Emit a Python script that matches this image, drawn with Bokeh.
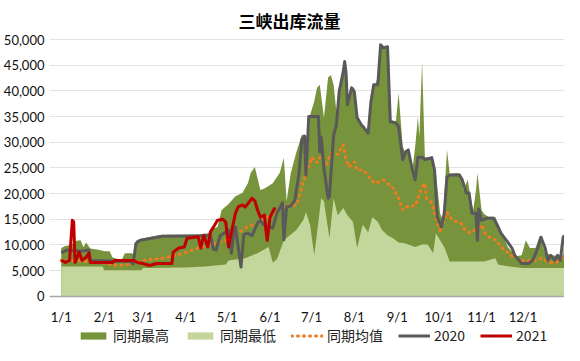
import pandas as pd
from bokeh.plotting import figure
from bokeh.models import (ColumnDataSource, Range1d, FixedTicker, NumeralTickFormatter,
                          Legend, LegendItem)
from bokeh.embed import file_html
from bokeh.resources import INLINE

# ---------------- data ----------------
month_tick_dates = ["01-01", "02-01", "03-01", "04-01", "05-01", "06-01",
                    "07-01", "08-01", "09-01", "10-01", "11-01", "12-01"]
month_tick_labels = ["1/1", "2/1", "3/1", "4/1", "5/1", "6/1",
                     "7/1", "8/1", "9/1", "10/1", "11/1", "12/1"]

max_dates = ["01-01", "01-04", "01-08", "01-12", "01-15", "01-17", "01-19", "01-22", "01-29",
             "02-01", "02-05", "02-07", "02-10", "02-14", "02-16", "02-21", "02-23", "02-24",
             "02-27", "03-11", "03-15", "04-10", "04-17", "04-21", "04-24", "04-27", "05-02",
             "05-07", "05-12", "05-16", "05-18", "05-21", "05-25", "05-28", "06-03", "06-08",
             "06-11", "06-13", "06-16", "06-20", "06-24", "06-26", "06-28", "06-30", "07-03",
             "07-05", "07-07", "07-10", "07-13", "07-15", "07-17", "07-19", "07-21", "07-25",
             "07-27", "07-30", "08-01", "08-03", "08-08", "08-11", "08-14", "08-18", "08-20",
             "08-22", "08-26", "08-27", "08-31", "09-02", "09-05", "09-07", "09-09", "09-12",
             "09-14", "09-16", "09-17", "09-19", "09-21", "09-26", "09-29", "10-02", "10-04",
             "10-07", "10-09", "10-14", "10-17", "10-19", "10-22", "10-24", "10-26", "10-28",
             "10-29", "11-01", "11-03", "11-06", "11-10", "11-13", "11-17", "11-20", "11-24",
             "11-26", "11-30", "12-03", "12-06", "12-10", "12-13", "12-17", "12-22", "12-27",
             "12-30", "12-31"]
max_vals = [9400, 9800, 10000, 10800, 10900, 9600, 10500, 9300, 9000,
            8800, 8800, 7600, 7300, 7200, 8400, 8400, 8000, 10800,
            11200, 11800, 12000, 12000, 12300, 13200, 13500, 16800, 18000,
            19500, 20100, 22000, 24000, 25200, 20700, 21000, 22000, 24000,
            27000, 18500, 24000, 28000, 31400, 31500, 27000, 35300, 38000,
            40600, 41200, 34800, 42600, 43100, 41200, 36000, 39800, 45700,
            37900, 40600, 40600, 34800, 32800, 32000, 39800, 42600, 49000,
            48400, 48600, 34400, 34000, 39600, 29100, 27900, 28500, 24600,
            29100, 35000, 31000, 45700, 27100, 27000, 24000, 16200, 14800,
            28500, 23800, 24000, 23800, 20700, 22700, 19300, 16800, 20700,
            24000, 16800, 16000, 15500, 15500, 12900, 11500, 9600, 8400,
            7800, 8000, 10900, 9400, 9400, 11700, 8400, 8000, 7800,
            8000, 11900]

min_dates = ["01-01", "01-31", "02-01", "02-28", "03-01", "03-31", "04-15", "04-30", "05-02",
             "05-14", "05-23", "05-31", "06-03", "06-06", "06-11", "06-20", "06-25", "06-27",
             "06-30", "07-03", "07-06", "07-08", "07-10", "07-14", "07-17", "07-20", "07-24",
             "07-27", "07-31", "08-03", "08-07", "08-11", "08-14", "08-18", "08-21", "08-25",
             "08-29", "09-02", "09-07", "09-14", "09-19", "09-23", "09-27", "09-29", "10-02",
             "10-05", "10-09", "10-19", "11-03", "11-11", "11-13", "11-19", "11-30", "12-31"]
min_vals = [5800, 5800, 5100, 5100, 5500, 5600, 5800, 6200, 7000,
            7400, 8400, 9600, 6600, 7200, 10900, 12900, 14800, 16400,
            13900, 8000, 14500, 19100, 18500, 11300, 19100, 15800, 17200,
            15800, 14500, 9400, 14000, 12500, 15400, 14500, 12900, 11900,
            11300, 10500, 10300, 9600, 10100, 10100, 8400, 12300, 10900,
            9600, 6800, 6800, 6800, 7400, 6200, 5900, 5500, 5500]

avg_dates = ["01-01", "01-15", "02-01", "02-10", "02-20", "03-01", "03-15", "03-31", "04-10",
             "04-22", "05-04", "05-14", "05-25", "06-04", "06-12", "06-20", "06-23", "06-25",
             "06-30", "07-01", "07-05", "07-07", "07-12", "07-15", "07-20", "07-24", "07-26",
             "07-28", "08-01", "08-03", "08-07", "08-11", "08-13", "08-16", "08-22", "08-25",
             "08-29", "08-31", "09-02", "09-05", "09-09", "09-14", "09-16", "09-19", "09-21",
             "09-22", "09-26", "09-29", "10-02", "10-07", "10-10", "10-14", "10-17", "10-19",
             "10-22", "10-25", "11-01", "11-04", "11-08", "11-12", "11-15", "11-18", "11-22",
             "11-25", "11-30", "12-10", "12-14", "12-20", "12-25", "12-30", "12-31"]
avg_vals = [7000, 6900, 6500, 6000, 6200, 7000, 7400, 8400, 9400,
            10300, 11300, 13300, 14500, 16200, 17600, 17800, 20100, 22300,
            26000, 27100, 26000, 27100, 25600, 27900, 27600, 29500, 26600,
            25200, 26200, 24600, 24600, 23600, 22700, 22000, 22700, 22000,
            21100, 20100, 19100, 16800, 17600, 17600, 19100, 21300, 22000,
            19100, 18200, 15400, 12500, 16400, 15200, 14500, 14300, 13300,
            12500, 12500, 13900, 12000, 11300, 10900, 9600, 9000, 8000,
            7600, 7000, 7000, 7400, 6600, 6600, 7600, 7600]

y2020_dates = ["01-01", "01-05", "01-15", "01-21", "01-22", "02-20", "02-22", "02-24", "02-27",
               "03-11", "03-15", "04-17", "04-19", "04-21", "04-23", "04-26", "05-02", "05-04",
               "05-06", "05-07", "05-11", "05-13", "05-16", "05-19", "05-23", "05-25", "05-27",
               "05-31", "06-03", "06-06", "06-10", "06-11", "06-13", "06-16", "06-19", "06-22",
               "06-24", "06-26", "06-27", "06-29", "07-06", "07-07", "07-08", "07-10", "07-13",
               "07-14", "07-17", "07-19", "07-21", "07-24", "07-25", "07-26", "07-27", "07-30",
               "08-01", "08-03", "08-06", "08-08", "08-11", "08-13", "08-15", "08-18", "08-20",
               "08-22", "08-25", "08-27", "08-31", "09-02", "09-05", "09-07", "09-09", "09-12",
               "09-14", "09-16", "09-19", "09-21", "09-26", "09-28", "09-30", "10-03", "10-05",
               "10-07", "10-09", "10-16", "10-18", "10-21", "10-23", "10-25", "10-28", "10-29",
               "10-30", "11-01", "11-05", "11-10", "11-13", "11-15", "11-19", "11-23", "11-25",
               "11-30", "12-05", "12-08", "12-12", "12-14", "12-17", "12-19", "12-21", "12-24",
               "12-26", "12-28", "12-30", "12-31"]
y2020_vals = [8500, 9000, 8800, 9000, 7000, 6800, 6300, 10300, 10900,
              11500, 11700, 11800, 11800, 9200, 9000, 11800, 12900, 8400,
              12500, 13500, 5700, 12000, 12300, 11800, 14300, 14800, 14000,
              13600, 13300, 16200, 18200, 11000, 17400, 17600, 18700, 24000,
              30500, 31200, 23600, 35000, 35000, 28100, 31000, 25000, 19100,
              19500, 31400, 33400, 39800, 43800, 45700, 43500, 37300, 40600,
              39800, 34800, 33400, 32800, 31800, 37900, 41200, 41200, 49000,
              48400, 48600, 34000, 33800, 33000, 26600, 28100, 28500, 24600,
              22700, 27100, 27100, 26600, 27000, 24600, 15400, 13500, 16200,
              23200, 23600, 23600, 22700, 20100, 20100, 16200, 16200, 10900,
              17000, 14800, 15200, 15200, 13500, 12300, 10900, 9400, 8000,
              6400, 6400, 7000, 9600, 11500, 9400, 7000, 8000, 7000,
              8000, 7000, 11500, 11900]

y2021_dates = ["01-01", "01-04", "01-07", "01-09", "01-10", "01-11", "01-14", "01-16", "01-19",
               "01-21", "01-22", "02-07", "02-09", "02-22", "02-25", "03-01", "03-06", "03-11",
               "03-22", "03-23", "03-27", "03-31", "04-02", "04-10", "04-12", "04-14", "04-17",
               "04-19", "04-22", "04-24", "04-28", "04-30", "05-02", "05-04", "05-07", "05-09",
               "05-12", "05-14", "05-17", "05-19", "05-21", "05-23", "05-25", "05-28", "05-29",
               "05-30", "06-01", "06-04", "06-05"]
y2021_vals = [7000, 6600, 7000, 14800, 14500, 6600, 8600, 7000, 7600,
              8400, 6600, 6600, 7000, 7000, 6600, 6400, 6000, 6400,
              6400, 8600, 9400, 9600, 11300, 11600, 9400, 11900, 9600,
              12600, 13900, 14800, 15000, 14400, 9600, 12300, 16200, 17400,
              17800, 17400, 18400, 19100, 18600, 16800, 15400, 15800, 12900,
              10900, 15400, 17000, 17200]


def doy(dates):
    return [int(pd.Timestamp("2021-" + d).dayofyear) - 1 for d in dates]


# ---------------- figure ----------------
FONT_NUM = "Lato"
FONT_CJK = "Noto Sans CJK SC"

# the frame reaches the bottom of the canvas; the x axis sits at y = 0 inside it,
# leaving room under it for the tick labels and the legend
p = figure(width=564, height=345, output_backend="svg", toolbar_location=None,
           x_range=Range1d(-8.5, 364), y_range=Range1d(-9570, 50390),
           min_border=0, min_border_left=40, min_border_right=0, min_border_top=32,
           min_border_bottom=0,
           background_fill_color="white", border_fill_color="white", outline_line_color=None)

p.title.text = "三峡出库流量"
p.title.align = "left"
p.title.offset = 189
p.title.text_font = FONT_CJK
p.title.text_font_size = "17px"
p.title.text_font_style = "bold"
p.title.text_color = "#000000"

src_max = ColumnDataSource(dict(x=doy(max_dates), y=max_vals))
src_min = ColumnDataSource(dict(x=doy(min_dates), y=min_vals))
src_avg = ColumnDataSource(dict(x=doy(avg_dates), y=avg_vals))
src_20 = ColumnDataSource(dict(x=doy(y2020_dates), y=y2020_vals))
src_21 = ColumnDataSource(dict(x=doy(y2021_dates), y=y2021_vals))

r_max = p.varea(x="x", y1=0, y2="y", source=src_max, fill_color="#77933c")
r_min = p.varea(x="x", y1=0, y2="y", source=src_min, fill_color="#c3d69b")
r_avg = p.line("x", "y", source=src_avg, line_color="#f07a1e", line_width=3,
               line_dash="1 5", line_cap="round")
r_20 = p.line("x", "y", source=src_20, line_color="#595959", line_width=3, line_join="round")
r_21 = p.line("x", "y", source=src_21, line_color="#c00000", line_width=3, line_join="round")

# axes
p.xaxis.fixed_location = 0
p.xaxis.ticker = FixedTicker(ticks=doy(month_tick_dates))
p.xaxis.major_label_overrides = {t: l for t, l in zip(doy(month_tick_dates), month_tick_labels)}
p.xaxis.major_tick_line_color = None
p.xaxis.minor_tick_line_color = None
p.xaxis.major_tick_out = 0
p.xaxis.axis_line_color = "#a6a6a6"
p.xaxis.axis_line_width = 1.5
p.xaxis.major_label_standoff = 13
p.xaxis.major_label_text_font = FONT_NUM
p.xaxis.major_label_text_font_size = "13px"
p.xaxis.major_label_text_color = "#111111"

p.yaxis.ticker = FixedTicker(ticks=list(range(0, 50001, 5000)))
p.yaxis.formatter = NumeralTickFormatter(format="0,0")
p.yaxis.major_tick_line_color = None
p.yaxis.minor_tick_line_color = None
p.yaxis.major_tick_out = 0
p.yaxis.axis_line_color = None
p.yaxis.major_label_standoff = 5
p.yaxis.major_label_text_font = FONT_NUM
p.yaxis.major_label_text_font_size = "13px"
p.yaxis.major_label_text_color = "#111111"

p.xgrid.grid_line_color = None
p.ygrid.grid_line_color = "#e3e3e3"
p.ygrid.grid_line_width = 1

legend = Legend(items=[
    LegendItem(label="同期最高", renderers=[r_max]),
    LegendItem(label="同期最低", renderers=[r_min]),
    LegendItem(label="同期均值", renderers=[r_avg]),
    LegendItem(label="2020", renderers=[r_20]),
    LegendItem(label="2021", renderers=[r_21]),
], orientation="horizontal", location=(28, 0))
legend.label_text_font = FONT_CJK
legend.label_text_font_size = "14px"
legend.label_text_color = "#222222"
legend.glyph_width = 32
legend.glyph_height = 9
legend.label_height = 16
legend.label_standoff = 4
legend.spacing = 15
legend.padding = 0
legend.margin = 0
legend.border_line_color = None
legend.background_fill_alpha = 0
p.add_layout(legend, "center")

open("out.html", "w").write(file_html(p, INLINE))
